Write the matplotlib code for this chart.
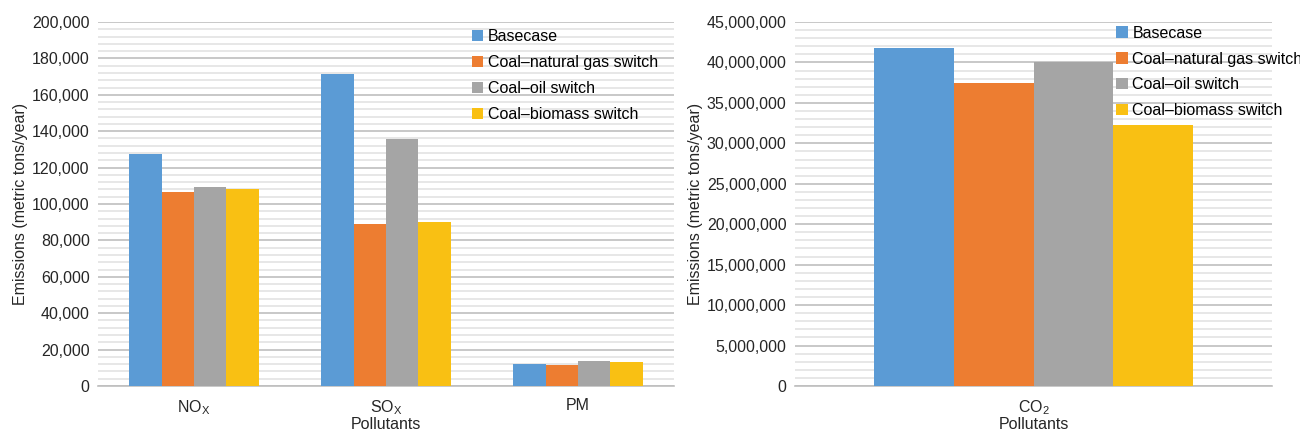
import matplotlib
matplotlib.use('Agg')
import matplotlib.pyplot as plt
import numpy as np
from matplotlib.ticker import MultipleLocator, FuncFormatter

plt.rcParams['font.family'] = ['Liberation Sans', 'DejaVu Sans']
plt.rcParams['mathtext.fontset'] = 'custom'
plt.rcParams['mathtext.rm'] = 'Liberation Sans'

# Data
series_names = ['Basecase', 'Coal\u2013natural gas switch', 'Coal\u2013oil switch', 'Coal\u2013biomass switch']
colors = ['#5B9BD5', '#ED7D31', '#A5A5A5', '#F9C013']

left_categories = [r'NO$_\mathregular{X}$', r'SO$_\mathregular{X}$', 'PM']
left_basecase = [127500, 171400, 12300]
left_gas = [106700, 89000, 11400]
left_oil = [109300, 135700, 14000]
left_biomass = [108200, 90100, 13400]

right_categories = [r'CO$_\mathregular{2}$']
right_basecase = [41800000]
right_gas = [37500000]
right_oil = [40000000]
right_biomass = [32300000]

fig = plt.figure(figsize=(13, 4.34), dpi=100)
ax1 = fig.add_axes([98 / 1300, 1 - 386 / 434, 576 / 1300, 364 / 434])
ax2 = fig.add_axes([795 / 1300, 1 - 386 / 434, 477 / 1300, 364 / 434])


def draw(ax, categories, values, width, ymax, major, minor, legend_anchor):
    x = np.arange(len(categories))
    n = len(values)
    for i, (vals, name, c) in enumerate(zip(values, series_names, colors)):
        ax.bar(x + (i - (n - 1) / 2) * width, vals, width, color=c, label=name, zorder=3)
    ax.set_xlim(-0.5, len(categories) - 0.5)
    ax.set_ylim(0, ymax)
    ax.set_xticks(x)
    ax.set_xticklabels(categories, fontsize=11.5)
    ax.yaxis.set_major_locator(MultipleLocator(major))
    ax.yaxis.set_minor_locator(MultipleLocator(minor))
    ax.yaxis.set_major_formatter(FuncFormatter(lambda v, p: f'{int(v):,}'))
    ax.tick_params(axis='y', which='both', length=0, labelsize=11.5, pad=6, colors='#262626')
    ax.tick_params(axis='x', length=0, pad=9, colors='#262626')
    ax.grid(True, axis='y', which='major', color='#BFBFBF', linewidth=1.2, zorder=0)
    ax.grid(True, axis='y', which='minor', color='#E3E3E3', linewidth=1.2, zorder=0)
    for s in ['top', 'right', 'left']:
        ax.spines[s].set_visible(False)
    ax.spines['bottom'].set_color('#BFBFBF')
    ax.spines['bottom'].set_linewidth(1.2)
    ax.set_xlabel('Pollutants', fontsize=11.5, color='#262626', va='center')
    ax.xaxis.set_label_coords(0.5, -0.107)
    ax.set_ylabel('Emissions (metric tons/year)', fontsize=11.5, color='#262626', labelpad=3)
    ax.legend(loc='upper left', bbox_to_anchor=legend_anchor, frameon=False, fontsize=11.5,
              handlelength=0.7, handleheight=0.7, handletextpad=0.3, labelspacing=0.68,
              borderpad=0, borderaxespad=0)


draw(ax1, left_categories, [left_basecase, left_gas, left_oil, left_biomass],
     0.169, 200000, 20000, 4000, (0.649, 0.98))
draw(ax2, right_categories, [right_basecase, right_gas, right_oil, right_biomass],
     0.1667, 45000000, 5000000, 1000000, (0.674, 0.99))

fig.savefig('out.png', dpi=100)
